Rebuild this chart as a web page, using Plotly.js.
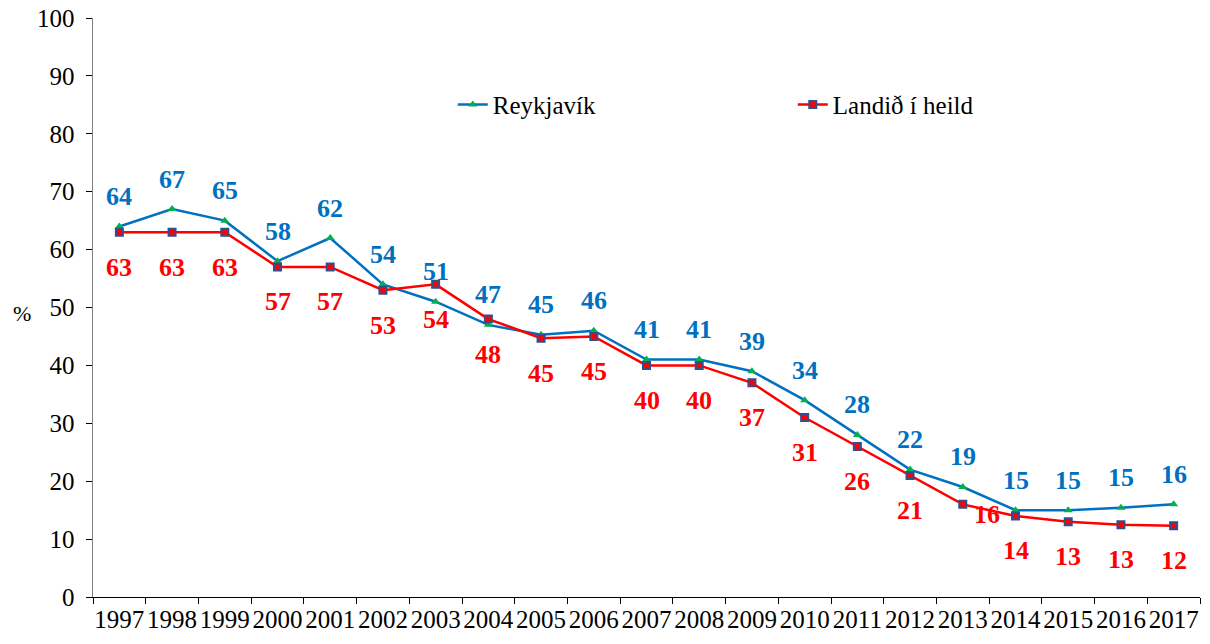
<!DOCTYPE html>
<html>
<head>
<meta charset="utf-8">
<script src="https://cdn.plot.ly/plotly-3.0.1.min.js"></script>
<style>html,body{margin:0;padding:0;background:#fff}#chart{width:1210px;height:644px}</style>
</head>
<body>
<div id="chart"></div>
<script>
const years = ['1997','1998','1999','2000','2001','2002','2003','2004','2005','2006','2007','2008','2009','2010','2011','2012','2013','2014','2015','2016','2017'];
const reykjavik = [64,67,65,58,62,54,51,47,45.3,46,41,41,39,34,28,22,19,15,15,15.4,16];
const landid = [63,63,63,57,57,53,54,48,44.7,45,40,40,37,31,26,21,16,14,13,12.5,12.3];
const reykjavikLabels = ['64','67','65','58','62','54','51','47','45','46','41','41','39','34','28','22','19','15','15','15','16'];
const landidLabels = ['63','63','63','57','57','53','54','48','45','45','40','40','37','31','26','21','16','14','13','13','12'];

const serif = 'Liberation Serif';

const traces = [
  {x: years, y: reykjavik, name: 'Reykjavík', mode: 'lines+markers', type: 'scatter',
   line: {color: '#0070C0', width: 2.5},
   marker: {symbol: 'triangle-up', color: '#00B050', size: 8}},
  {x: years, y: landid, name: 'Landið í heild', mode: 'lines+markers', type: 'scatter',
   line: {color: '#FF0000', width: 2.5},
   marker: {symbol: 'square', color: '#FF0000', size: 7, line: {color: '#2F4F8F', width: 2}}}
];

const annotations = [];
years.forEach((yr, i) => {
  annotations.push({x: i, y: reykjavik[i], text: reykjavikLabels[i], showarrow: false,
    yshift: 30, font: {family: serif, size: 26, color: '#0070C0', weight: 'bold'}});
  const special = (yr === '2013');
  annotations.push({x: i, y: landid[i], text: landidLabels[i], showarrow: false,
    yshift: special ? -10 : -35, xshift: special ? 24 : 0,
    font: {family: serif, size: 26, color: '#FF0000', weight: 'bold'}});
});
annotations.push({xref: 'paper', yref: 'paper', x: -0.074, y: 0.49, text: '%', showarrow: false,
  font: {family: serif, size: 22, color: '#000'}});

const layout = {
  width: 1210, height: 644,
  margin: {l: 93, r: 10, t: 18, b: 47},
  paper_bgcolor: '#fff', plot_bgcolor: '#fff',
  font: {family: serif},
  showlegend: true,
  legend: {orientation: 'h', x: 0.325, y: 0.85, xanchor: 'left', yanchor: 'middle',
    font: {family: serif, size: 25, color: '#000'}, entrywidth: 295, bgcolor: 'rgba(0,0,0,0)'},
  xaxis: {type: 'category', tickson: 'boundaries', ticks: 'outside', ticklen: 6, tickcolor: '#000',
    tickangle: 0, automargin: false,
    showline: true, linecolor: '#000', linewidth: 1, showgrid: false, zeroline: false,
    tickfont: {family: serif, size: 25, color: '#000'}, range: [-0.5, 20.5], fixedrange: true},
  yaxis: {range: [0, 100], dtick: 10, ticks: 'outside', ticklen: 6, tickcolor: '#000',
    showline: true, linecolor: '#808080', linewidth: 1.5, showgrid: false, zeroline: false,
    tickfont: {family: serif, size: 25, color: '#000'}, ticklabelstandoff: 6},
  annotations: annotations
};

Plotly.newPlot('chart', traces, layout, {displayModeBar: false, staticPlot: true});
</script>
</body>
</html>
